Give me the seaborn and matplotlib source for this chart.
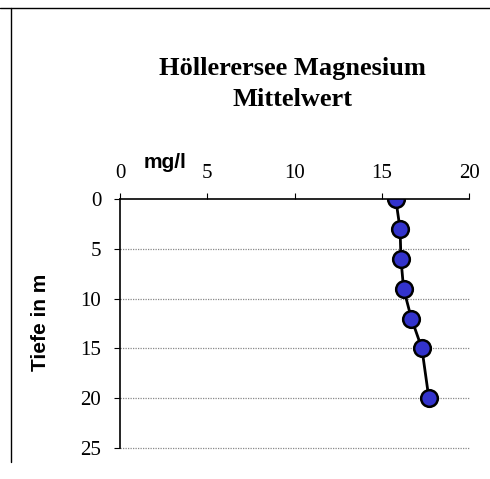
import numpy as np
import pandas as pd
import seaborn as sns
import matplotlib.pyplot as plt
from matplotlib.lines import Line2D

# Mittelwerte Magnesium (mg/l) je Tiefe (m)
tiefe = [0, 3, 6, 9, 12, 15, 20]
magnesium = [15.8, 16.05, 16.1, 16.25, 16.7, 17.3, 17.7]
x_ticks = [0, 5, 10, 15, 20]
y_ticks = [0, 5, 10, 15, 20, 25]

df = pd.DataFrame({'Tiefe': tiefe, 'Mg': magnesium})

sns.set_style('white')
plt.rcParams['text.color'] = 'black'
plt.rcParams['xtick.color'] = 'black'
plt.rcParams['ytick.color'] = 'black'

fig = plt.figure(figsize=(4.9, 4.79), dpi=100)
ax = fig.add_axes([120/490, 1 - 448/479, 349/490, 249/479])

sns.lineplot(data=df, x='Mg', y='Tiefe', sort=False, estimator=None, ax=ax,
             color='black', linewidth=2, marker='o', markersize=12,
             markerfacecolor='#3333CC', markeredgecolor='black', markeredgewidth=1.8)

ax.set_xlim(0, 20)
ax.set_ylim(25, 0)
ax.set_xticks(x_ticks)
ax.set_yticks(y_ticks)
ax.xaxis.tick_top()
ax.tick_params(axis='both', direction='out', length=4.5, width=0.8,
               labelsize=15, top=True, left=True, bottom=False)
ax.tick_params(axis='x', pad=7)
ax.tick_params(axis='y', pad=9)
for lab in ax.get_xticklabels() + ax.get_yticklabels():
    lab.set_family('Liberation Serif')

# horizontal dotted gridlines
for y in y_ticks[1:]:
    ax.axhline(y, color='#888888', linestyle=(0, (1, 1)), linewidth=0.9, zorder=0, clip_on=False)

for side in ['right', 'bottom']:
    ax.spines[side].set_visible(False)
for side in ['top', 'left']:
    ax.spines[side].set_color('black')
    ax.spines[side].set_linewidth(1.2)

ax.set_xlabel('')
ax.set_ylabel('')
fig.text(165/490, 1 - 162/479, 'mg/l', ha='center', va='center', fontsize=15,
         fontweight='bold', family='Liberation Sans')
fig.text(40/490, 1 - 322/479, 'Tiefe in m', ha='center', va='center', rotation=90,
         fontsize=15, fontweight='bold', family='Liberation Sans')
fig.text(292/490, 1 - 84/479, 'Höllerersee Magnesium\nMittelwert', ha='center', va='center',
         fontsize=19, fontweight='bold', family='Liberation Serif', linespacing=1.4)

# frame lines of the chart area
fig.add_artist(Line2D([0, 1], [1 - 8/479, 1 - 8/479], color='black', linewidth=1))
fig.add_artist(Line2D([11/490, 11/490], [1 - 8/479, 1 - 462/479], color='black', linewidth=1))

fig.savefig('out.png', dpi=100)
